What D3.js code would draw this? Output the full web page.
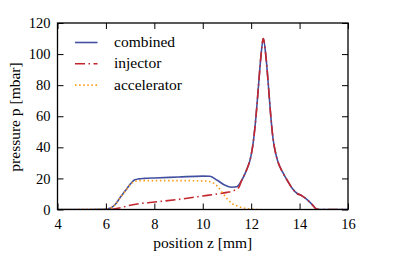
<!DOCTYPE html>
<html><head><meta charset="utf-8">
<script src="https://cdn.jsdelivr.net/npm/d3@7"></script>
<style>body{margin:0;background:#fff}svg{display:block}</style>
</head><body><svg id="c" width="415" height="256"></svg>
<script>
const xTicks = [4, 6, 8, 10, 12, 14, 16];
const yTicks = [0, 20, 40, 60, 80, 100, 120];
const seriesNames = ["combined", "injector", "accelerator"];
const combinedZ = [4.0,5.0,5.8,6.0,6.2,6.4,6.6,6.8,7.0,7.1,7.2,7.35,7.6,8.0,9.0,10.0,10.3,10.6,10.9,11.2,11.4,11.6,11.8,12.0,12.1,12.2,12.3,12.4,12.5,12.6,12.7,12.8,12.9,13.0,13.1,13.3,13.5,13.7,13.9,14.1,14.3,14.5,14.7,14.8,16.0];
const combinedP = [0,0,0.1,0.3,1.0,3.5,8,12,16.2,18,19.1,19.7,20,20.3,20.9,21.5,21.4,18.8,15.8,14.3,14.6,18.5,25,35,45,60,79,98,110,100,82,62,46,37,31,24,18.5,13.5,10.3,8.8,6.5,3.5,0.3,0,0];
const injectorZ = [6.2,6.5,7.0,7.5,8.0,9.0,10.0,10.5,11.0,11.3,11.5,11.6,11.8,12.0,12.1,12.2,12.3,12.4,12.5,12.6,12.7,12.8,12.9,13.0,13.1,13.3,13.5,13.7,13.9,14.1,14.3,14.5,14.7,14.8,16.0];
const injectorP = [0,0.8,2.7,4,4.8,6.5,8.7,9.8,11,12.3,14.5,18.5,25,35,45,60,79,98,110,100,82,62,46,37,31,24,18.5,13.5,10.3,8.8,6.5,3.5,0.3,0,0];
const accelZ = [4.0,6.0,6.2,6.4,6.6,6.8,7.0,7.1,7.2,7.35,7.6,8.0,9.0,10.0,10.3,10.6,10.8,11.0,11.2,11.5,11.8,12.1,12.4];
const accelP = [0,0.2,0.9,3.4,7.8,11.8,15.8,17.3,18.1,18.5,18.6,18.6,18.6,18.4,17.9,15,11,7,4,1.8,0.6,0.1,0];

const svg = d3.select("#c");
const x = d3.scaleLinear().domain([4,16]).range([57.5,348]);
const y = d3.scaleLinear().domain([0,120]).range([209.5,23]);
const ff = '"Liberation Serif"';

svg.append("clipPath").attr("id","cp").append("rect")
  .attr("x",57.5).attr("y",23).attr("width",290.5).attr("height",186.5);

const line = d3.line().x(d=>x(d[0])).y(d=>y(d[1])).curve(d3.curveMonotoneX);
const styles = [
  {c:"#4350a0", dash:null},
  {c:"#c4262e", dash:"10,3.5,1.5,3.5"},
  {c:"#ff9c1a", dash:"1.5,2.6"}
];
const data = [
  d3.zip(combinedZ, combinedP),
  d3.zip(injectorZ, injectorP),
  d3.zip(accelZ, accelP)
];
const g = svg.append("g").attr("clip-path","url(#cp)");
data.forEach((d,i)=>{
  g.append("path").datum(d).attr("d",line).attr("fill","none")
    .attr("stroke",styles[i].c).attr("stroke-width",1.6)
    .attr("stroke-dasharray",styles[i].dash);
});

const axB = svg.append("g").attr("transform","translate(0,209.5)")
  .call(d3.axisBottom(x).tickValues(xTicks).tickSizeInner(-6).tickSizeOuter(0).tickPadding(9));
const axT = svg.append("g").attr("transform","translate(0,23)")
  .call(d3.axisTop(x).tickValues(xTicks).tickSizeInner(-6).tickSizeOuter(0).tickFormat(""));
const axL = svg.append("g").attr("transform","translate(57.5,0)")
  .call(d3.axisLeft(y).tickValues(yTicks).tickSizeInner(-6).tickSizeOuter(0).tickPadding(7));
const axR = svg.append("g").attr("transform","translate(348,0)")
  .call(d3.axisRight(y).tickValues(yTicks).tickSizeInner(-6).tickSizeOuter(0).tickFormat(""));
[axB,axT,axL,axR].forEach(a=>{
  a.attr("font-family",null).attr("font-size",null);
  a.selectAll(".domain").remove();
  a.selectAll(".tick line").attr("stroke","#000").attr("stroke-width",1);
  a.selectAll("text").style("font-family",ff).style("font-size","14.5px").attr("fill","#000");
});
svg.append("rect").attr("x",57.5).attr("y",23).attr("width",290.5).attr("height",186.5)
  .attr("fill","none").attr("stroke","#000").attr("stroke-width",1.3);

svg.append("text").attr("x",202.75).attr("y",248).attr("text-anchor","middle")
  .style("font-family",ff).style("font-size","15.5px").text("position z [mm]");
svg.append("text").attr("transform","translate(20,117) rotate(-90)").attr("text-anchor","middle")
  .style("font-family",ff).style("font-size","15.5px").text("pressure p [mbar]");

const leg = svg.append("g");
seriesNames.forEach((n,i)=>{
  const yy = 42.5 + i*21.3;
  leg.append("line").attr("x1",75).attr("x2",97.5).attr("y1",yy).attr("y2",yy)
    .attr("stroke",styles[i].c).attr("stroke-width",1.6)
    .attr("stroke-dasharray",styles[i].dash);
  leg.append("text").attr("x",114).attr("y",yy+4.5)
    .style("font-family",ff).style("font-size","15.5px").text(n);
});
</script></body></html>
